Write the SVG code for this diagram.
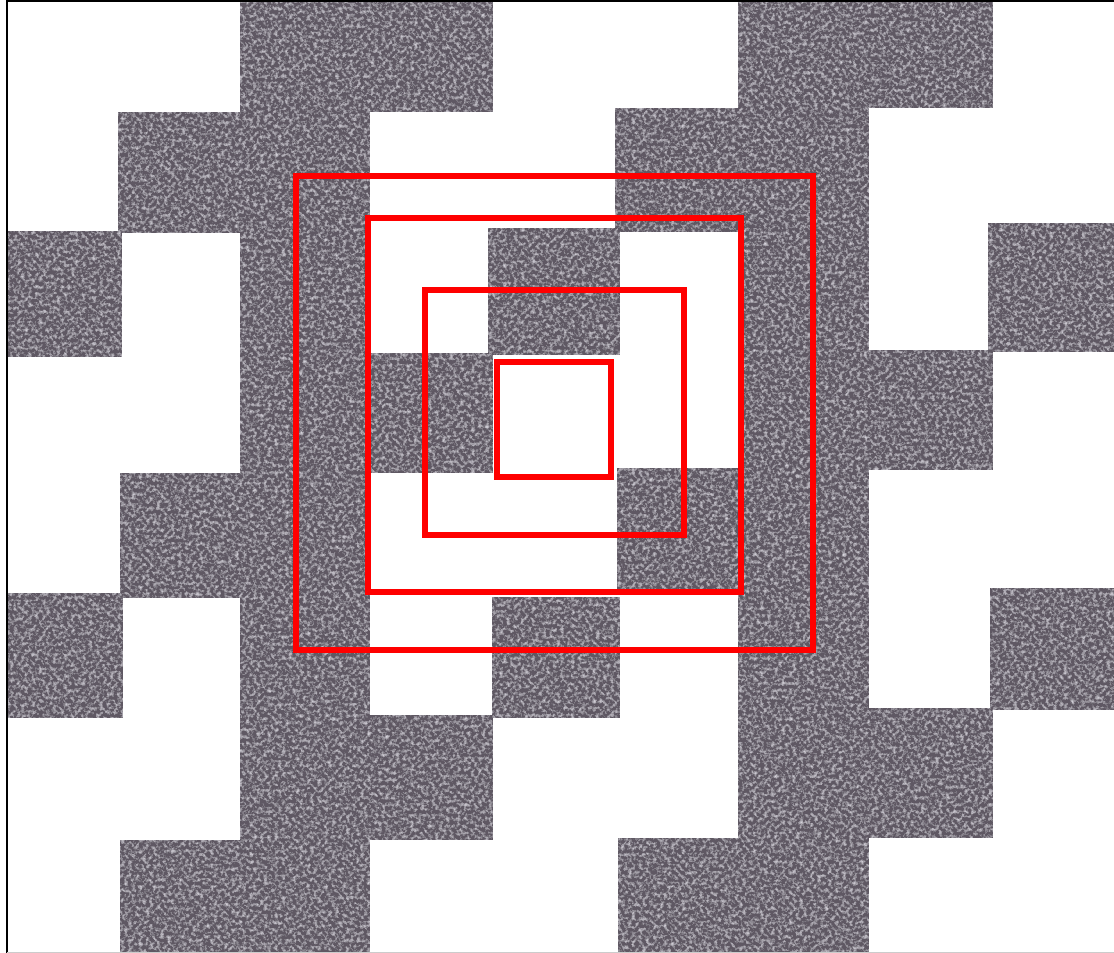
<svg xmlns="http://www.w3.org/2000/svg" width="1114" height="953" viewBox="0 0 1114 953">
<style>
.dk{fill:#5f5963}
.sq{fill:none;stroke:#ff0000;stroke-width:6}
</style>
<defs>
<filter id="grain" x="0" y="0" width="100%" height="100%" filterUnits="userSpaceOnUse">
<feTurbulence type="fractalNoise" baseFrequency="0.28" numOctaves="3" seed="7" result="noise"/>
<feColorMatrix in="noise" type="matrix" values="0 0 0 0 0.70  0 0 0 0 0.68  0 0 0 0 0.74  2.0 0 0 0 -0.9" result="spk"/>
<feComposite in="spk" in2="SourceGraphic" operator="in" result="clip"/>
<feMerge><feMergeNode in="SourceGraphic"/><feMergeNode in="clip"/></feMerge>
</filter>
</defs>
<rect x="0" y="0" width="1114" height="953" fill="#ffffff"/>
<g id="pattern" filter="url(#grain)">
<g id="left-spine" class="dk">
<rect x="240" y="0" width="130" height="953"/>
<rect x="370" y="0" width="123" height="112"/>
<rect x="118" y="112" width="122" height="121"/>
<rect x="8" y="231" width="114" height="126"/>
<rect x="370" y="353" width="123" height="120"/>
<rect x="120" y="473" width="120" height="125"/>
<rect x="8" y="593" width="115" height="125"/>
<rect x="370" y="715" width="123" height="125"/>
<rect x="120" y="840" width="120" height="113"/>
</g>
<g id="center-blocks" class="dk">
<rect x="488" y="228" width="132" height="127"/>
<rect x="492" y="597" width="128" height="121"/>
</g>
<g id="right-spine" class="dk">
<rect x="738" y="0" width="131" height="953"/>
<rect x="869" y="0" width="124" height="108"/>
<rect x="615" y="108" width="123" height="124"/>
<rect x="988" y="223" width="126" height="129"/>
<rect x="868" y="350" width="125" height="120"/>
<rect x="617" y="468" width="121" height="122"/>
<rect x="990" y="588" width="124" height="122"/>
<rect x="869" y="708" width="124" height="130"/>
<rect x="618" y="838" width="120" height="115"/>
</g>
</g>
<g id="squares">
<rect class="sq" x="296" y="176" width="517" height="474"/>
<rect class="sq" x="368" y="218" width="373" height="374"/>
<rect class="sq" x="425" y="290" width="259" height="245"/>
<rect class="sq" x="497" y="362" width="114" height="115"/>
</g>
<g id="frame" fill="none">
<line x1="7" y1="1" x2="1114" y2="1" stroke="#000" stroke-width="2"/>
<line x1="7" y1="0" x2="7" y2="953" stroke="#000" stroke-width="2"/>
<line x1="7" y1="952.5" x2="1114" y2="952.5" stroke="#cccccc" stroke-width="1"/>
</g>
</svg>
